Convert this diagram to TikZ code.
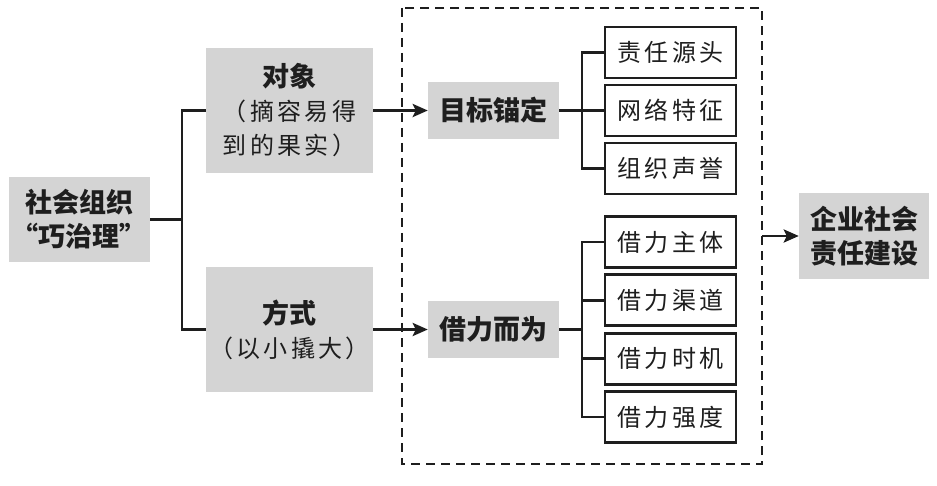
\documentclass[tikz,border=0pt]{standalone}
\usepackage{fontspec}
\usetikzlibrary{arrows.meta}
\setmainfont{Noto Sans CJK SC}
\newfontfamily\cjkb{Noto Sans CJK SC}
\newfontfamily\cjkr[LetterSpace=14]{Noto Sans CJK SC}
\definecolor{boxgray}{RGB}{212,212,212}
\definecolor{ink}{RGB}{30,30,30}
\newcommand\heavy[1]{{\fontsize{27}{34}\selectfont\cjkb\bfseries #1}}
\newcommand\light[1]{{\fontsize{24}{34}\selectfont\cjkr\mdseries #1}}
\tikzset{
  graybox/.style={fill=boxgray, draw=none, inner sep=0pt, align=center, text=ink,
    font=\fontsize{27}{34}\selectfont\cjkb\bfseries},
  whitebox/.style={fill=white, draw=ink, line width=2.6pt, inner sep=0pt,
    minimum width=131pt, minimum height=51pt, text=ink,
    font=\fontsize{24}{34}\selectfont\cjkr},
  conn/.style={draw=ink, solid, line width=2.6pt},
  arr/.style={draw=ink, solid, line width=2.8pt, -{Stealth[length=15pt,width=13pt,inset=3pt]}},
  frame/.style={draw=ink, line width=2.4pt, dash pattern=on 9pt off 6pt, inner sep=0pt, outer sep=0pt}
}
\begin{document}
\begin{tikzpicture}[x=1pt,y=-1pt]
\useasboundingbox[fill=white] (0,0) rectangle (937,486);
% dashed frame
\draw[frame] (402,8) rectangle (762,464);
\coordinate (fe) at (762,236);
% gray boxes
\node[graybox, minimum width=141pt, minimum height=85pt] (soc) at (79.5,219.5) {社会组织\\“巧治理”};
\node[graybox, minimum width=167pt, minimum height=125pt] (obj) at (289.5,110.5)
  {\heavy{对象}\\\light{（摘容易得}\\\light{到的果实）}};
\node[graybox, minimum width=167pt, minimum height=125pt] (way) at (289.5,329.5)
  {\heavy{方式}\\\light{（以小撬大）}};
\node[graybox, minimum width=131pt, minimum height=57pt] (goal) at (493.5,110.5) {目标锚定};
\node[graybox, minimum width=131pt, minimum height=56pt] (borrow) at (493.5,329.5) {借力而为};
\node[graybox, minimum width=130pt, minimum height=86pt] (csr) at (864,236) {企业社会\\责任建设};
% white boxes
\node[whitebox] (t1) at (670.5,52.5) {责任源头};
\node[whitebox] (t2) at (670.5,110.5) {网络特征};
\node[whitebox] (t3) at (670.5,168.5) {组织声誉};
\node[whitebox] (b1) at (670.5,242) {借力主体};
\node[whitebox] (b2) at (670.5,300.3) {借力渠道};
\node[whitebox] (b3) at (670.5,358.7) {借力时机};
\node[whitebox] (b4) at (670.5,417) {借力强度};
% junctions
\coordinate (j0) at (182,219.5);
\coordinate (j1) at (582,110.5);
\coordinate (j2) at (582,329.5);
% connectors
\draw[conn] (soc.east) -- (j0);
\draw[conn] (obj.west) -| (j0) |- (way.west);
\draw[arr] (obj.east) -- (goal.west);
\draw[arr] (way.east) -- (borrow.west);
\draw[conn] (goal.east) -- (j1);
\draw[conn] (t1.west) -| (j1) |- (t3.west);
\draw[conn] (j1) -- (t2.west);
\draw[conn] (borrow.east) -- (j2);
\draw[conn] (b1.west) -| (j2) |- (b4.west);
\draw[conn] (b2.west) -- (b2.west -| j2);
\draw[conn] (b3.west) -- (b3.west -| j2);
\draw[arr] (fe) -- (csr.west);
\end{tikzpicture}
\end{document}
